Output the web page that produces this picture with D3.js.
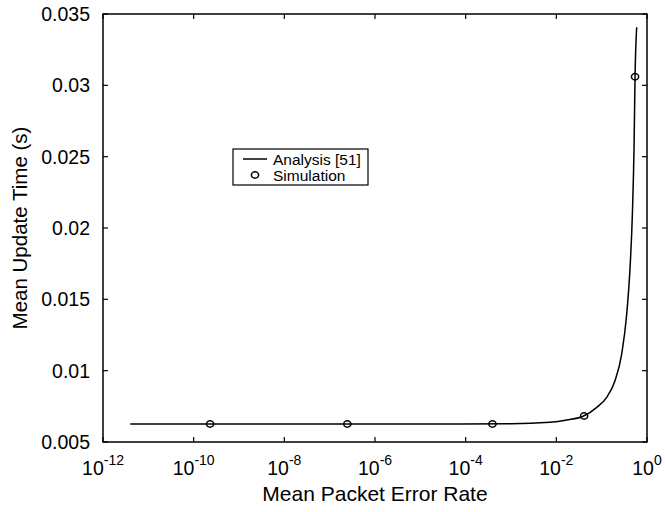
<!DOCTYPE html>
<html>
<head>
<meta charset="utf-8">
<script src="https://cdn.jsdelivr.net/npm/d3@7"></script>
<style>
  html, body { margin: 0; padding: 0; background: #fff; }
  svg { display: block; }
  text { font-family: "Liberation Sans", Arial, Helvetica, sans-serif; fill: #000; }
</style>
</head>
<body>
<script>
// Analytical curve: mean update time vs. mean packet error rate
const analysisPER = [4e-12, 1e-9, 1e-6, 1e-3, 0.0072, 0.017, 0.04, 0.078, 0.129, 0.197, 0.277, 0.357, 0.423, 0.476, 0.518, 0.545, 0.593];
const analysisTime = [0.00626, 0.00626, 0.00626, 0.00628, 0.00638, 0.00654, 0.00682, 0.00743, 0.00813, 0.0093, 0.01117, 0.01397, 0.01724, 0.02098, 0.02566, 0.03063, 0.03407];

// Simulated points
const simPER = [2.3e-10, 2.45e-7, 3.9e-4, 0.041, 0.545];
const simTime = [0.00626, 0.00626, 0.00626, 0.00682, 0.0306];

// Axis ticks
const xTickExps = [-12, -10, -8, -6, -4, -2, 0];
const yTicks = [0.005, 0.01, 0.015, 0.02, 0.025, 0.03, 0.035];
const yTickLabels = ["0.005", "0.01", "0.015", "0.02", "0.025", "0.03", "0.035"];

const legendLabels = ["Analysis [51]", "Simulation"];
const xTitle = "Mean Packet Error Rate";
const yTitle = "Mean Update Time (s)";

const W = 665, H = 512;
const plot = { left: 103, right: 647, top: 14, bottom: 442 };

const svg = d3.select("body").append("svg").attr("width", W).attr("height", H);

const x = d3.scaleLog().domain([1e-12, 1]).range([plot.left, plot.right]);
const y = d3.scaleLinear().domain([0.005, 0.035]).range([plot.bottom, plot.top]);

const xTicks = xTickExps.map(e => Math.pow(10, e));
const tickLen = 5;

// Inward ticks on all four sides
const axes = svg.append("g").attr("stroke", "#000").attr("stroke-width", 1.2);
xTicks.forEach(v => {
  const px = x(v);
  axes.append("line").attr("x1", px).attr("x2", px).attr("y1", plot.bottom).attr("y2", plot.bottom - tickLen);
  axes.append("line").attr("x1", px).attr("x2", px).attr("y1", plot.top).attr("y2", plot.top + tickLen);
});
yTicks.forEach(v => {
  const py = y(v);
  axes.append("line").attr("x1", plot.left).attr("x2", plot.left + tickLen).attr("y1", py).attr("y2", py);
  axes.append("line").attr("x1", plot.right).attr("x2", plot.right - tickLen).attr("y1", py).attr("y2", py);
});

// Frame
svg.append("rect")
  .attr("x", plot.left).attr("y", plot.top)
  .attr("width", plot.right - plot.left).attr("height", plot.bottom - plot.top)
  .attr("fill", "none").attr("stroke", "#000").attr("stroke-width", 1.5);

// X tick labels: 10^n
xTickExps.forEach((e, i) => {
  const t = svg.append("text")
    .attr("x", x(xTicks[i])).attr("y", 475)
    .attr("text-anchor", "middle").attr("font-size", 19.5);
  t.append("tspan").text("10");
  t.append("tspan").attr("font-size", 14).attr("dy", -10).text(String(e));
});

// Y tick labels
yTicks.forEach((v, i) => {
  svg.append("text")
    .attr("x", 90).attr("y", y(v))
    .attr("text-anchor", "end").attr("dy", "0.36em").attr("font-size", 19.5)
    .text(yTickLabels[i]);
});

// Axis titles
svg.append("text")
  .attr("x", (plot.left + plot.right) / 2).attr("y", 501)
  .attr("text-anchor", "middle").attr("font-size", 21).text(xTitle);
svg.append("g").attr("transform", `translate(27,${(plot.top + plot.bottom) / 2}) rotate(-90)`)
  .append("text").attr("text-anchor", "middle").attr("font-size", 20.5).text(yTitle);

// Analysis curve
const line = d3.line()
  .x((d, i) => x(analysisPER[i]))
  .y((d, i) => y(analysisTime[i]))
  .curve(d3.curveMonotoneX);
svg.append("path")
  .datum(analysisPER)
  .attr("d", line)
  .attr("fill", "none").attr("stroke", "#000").attr("stroke-width", 1.5);

// Simulation markers
svg.append("g").selectAll("ellipse")
  .data(simPER)
  .join("ellipse")
  .attr("cx", d => x(d))
  .attr("cy", (d, i) => y(simTime[i]))
  .attr("rx", 3.6).attr("ry", 3.2)
  .attr("fill", "none").attr("stroke", "#000").attr("stroke-width", 1.5);

// Legend
const leg = svg.append("g");
leg.append("rect").attr("x", 233).attr("y", 149).attr("width", 135).attr("height", 36)
  .attr("fill", "#fff").attr("stroke", "#000").attr("stroke-width", 1.2);
leg.append("line").attr("x1", 243).attr("x2", 267).attr("y1", 159).attr("y2", 159)
  .attr("stroke", "#000").attr("stroke-width", 1.5);
leg.append("ellipse").attr("cx", 255).attr("cy", 175).attr("rx", 3.6).attr("ry", 3.2)
  .attr("fill", "none").attr("stroke", "#000").attr("stroke-width", 1.5);
legendLabels.forEach((lbl, i) => {
  leg.append("text")
    .attr("x", 273).attr("y", 164.5 + i * 16)
    .attr("font-size", 15.5).text(lbl);
});
</script>
</body>
</html>
